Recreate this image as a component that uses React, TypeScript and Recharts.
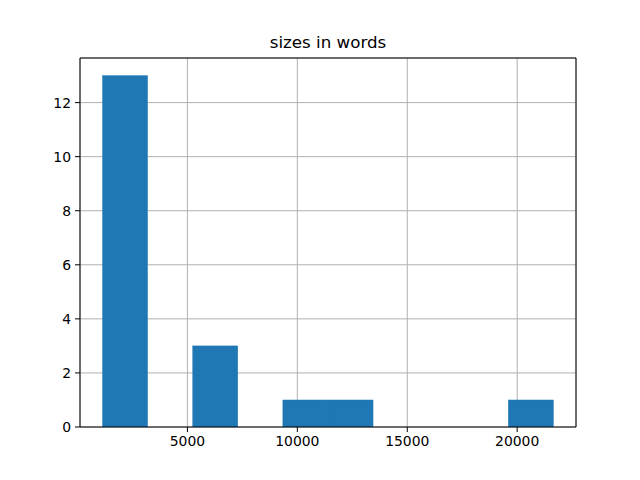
import { ComposedChart, Bar, XAxis, YAxis, CartesianGrid, ReferenceLine } from 'recharts';

// histogram of document sizes (10 bins)
const binStart = 1140;
const binWidth = 2051;
const counts = [13, 0, 3, 0, 1, 1, 0, 0, 0, 1];
const xTicks = [5000, 10000, 15000, 20000];
const yTicks = [0, 2, 4, 6, 8, 10, 12];

const data = counts.map((count, i) => ({
  center: binStart + binWidth * (i + 0.5),
  count,
}));

const span = binWidth * counts.length;
const xMin = binStart - span * 0.05;
const xMax = binStart + span * 1.05;
const yMax = Math.max(...counts) * 1.05;

const plotWidth = 496;
const barSize = (binWidth * plotWidth) / (xMax - xMin);

const font = 'DejaVu Sans, sans-serif';

// full-width bin rect centred on the bar position recharts gives
const BinRect = (props: any) => {
  const { x, y, width, height, fill } = props;
  if (!height || height <= 0) return null;
  const cx = x + width / 2;
  return (
    <rect
      x={cx - barSize / 2}
      y={y}
      width={barSize}
      height={height}
      fill={fill}
      stroke={fill}
      strokeWidth={0.4}
    />
  );
};

export default function App() {
  return (
    <div style={{ position: 'absolute', left: 0, top: 0, width: 640, height: 480, background: '#fff' }}>
      <div
        style={{
          position: 'absolute',
          left: 80,
          width: 496,
          top: 32,
          textAlign: 'center',
          fontFamily: font,
          fontSize: 16.7,
          lineHeight: '20px',
          color: '#000',
        }}
      >
        sizes in words
      </div>
      <ComposedChart
        width={640}
        height={480}
        data={data}
        margin={{ top: 58, right: 64, bottom: 0, left: 0 }}
        barCategoryGap={0}
        barGap={0}
      >
        <XAxis
          dataKey="center"
          type="number"
          domain={[xMin, xMax]}
          ticks={xTicks}
          height={53}
          allowDataOverflow
          stroke="#000"
          tickSize={5}
          tickMargin={4}
          tick={{ fill: '#000', fontSize: 13.9, fontFamily: font }}
        />
        <YAxis
          type="number"
          domain={[0, yMax]}
          ticks={yTicks}
          width={80}
          allowDataOverflow
          stroke="#000"
          tickSize={5}
          tickMargin={4}
          tick={{ fill: '#000', fontSize: 13.9, fontFamily: font }}
        />
        <Bar dataKey="count" fill="#1f77b4" shape={BinRect} isAnimationActive={false} />
        <CartesianGrid stroke="#b0b0b0" strokeWidth={1} />
        <ReferenceLine y={yMax} stroke="#000" strokeWidth={1} />
        <ReferenceLine x={xMax} stroke="#000" strokeWidth={1} />
      </ComposedChart>
    </div>
  );
}
